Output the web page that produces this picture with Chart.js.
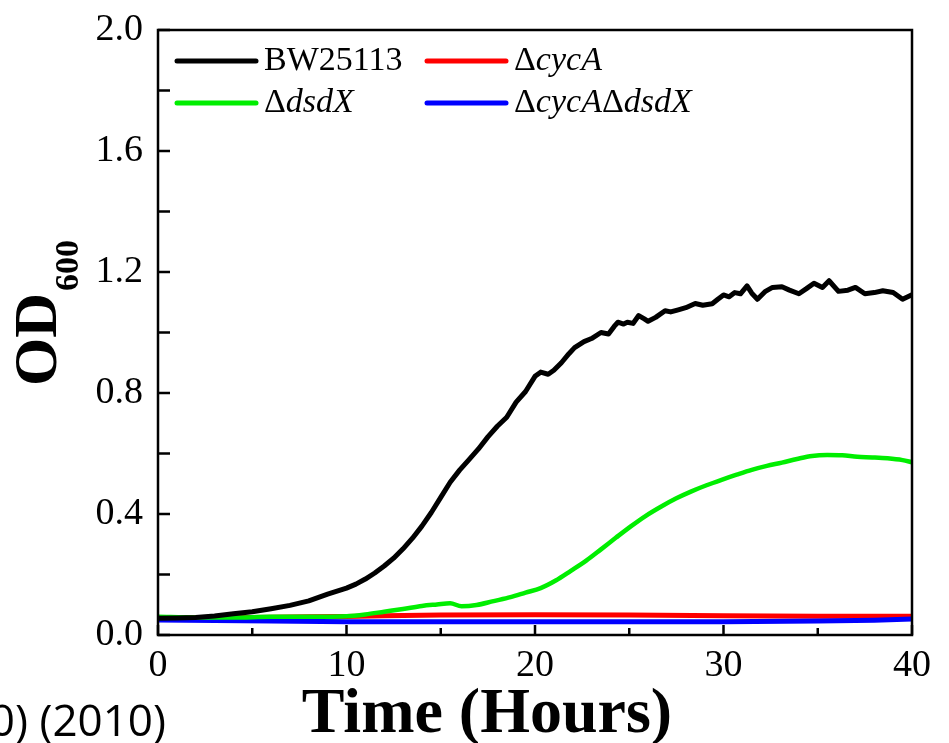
<!DOCTYPE html>
<html>
<head>
<meta charset="utf-8">
<script src="https://cdn.jsdelivr.net/npm/chart.js@4.4.1/dist/chart.umd.min.js"></script>
<style>
  html, body { margin:0; padding:0; background:#fff; }
  #wrap { position:relative; width:949px; height:743px; }
</style>
</head>
<body>
<div id="wrap"><canvas id="chart-od" width="949" height="743"></canvas></div>
<script>
// Growth curves, OD600 vs time (h)
const bwTime = [0,1,2,3,4,5,6,7,8,9,10,10.5,11,11.5,12,12.5,13,13.5,14,14.5,15,15.5,16,16.5,17,17.5,18,18.5,19,19.5,20,20.3,20.7,21,21.4,21.8,22.1,22.6,23,23.5,23.9,24.2,24.4,24.7,24.9,25.2,25.5,25.8,26,26.4,26.9,27.2,27.6,28,28.5,28.9,29.4,29.7,30,30.3,30.6,30.9,31.25,31.5,31.8,32.2,32.6,33.1,33.5,34,34.4,34.8,35.25,35.6,36.1,36.6,37,37.5,38,38.45,39,39.5,40];
const bwOD   = [0.055,0.056,0.058,0.063,0.070,0.077,0.087,0.098,0.113,0.135,0.155,0.168,0.185,0.205,0.228,0.254,0.285,0.32,0.36,0.405,0.455,0.505,0.545,0.58,0.615,0.655,0.69,0.72,0.77,0.805,0.855,0.869,0.862,0.875,0.90,0.93,0.95,0.97,0.98,1.00,0.995,1.02,1.034,1.028,1.034,1.03,1.056,1.045,1.037,1.05,1.072,1.068,1.075,1.082,1.096,1.09,1.095,1.11,1.124,1.118,1.132,1.128,1.154,1.13,1.11,1.135,1.149,1.151,1.14,1.128,1.145,1.163,1.149,1.171,1.136,1.14,1.149,1.128,1.132,1.138,1.132,1.11,1.125];

const dsdXTime = [0,2,4,6,8,10,11,12,13,14,14.8,15.5,16.1,16.9,17.8,18.7,19.5,20.3,21.1,21.9,22.7,23.5,24.3,25.1,25.9,26.7,27.5,28.3,29.1,29.9,30.7,31.5,32.3,33.1,33.9,34.7,35.5,36.3,37.1,37.9,38.7,39.5,40];
const dsdXOD   = [0.06,0.058,0.058,0.06,0.06,0.062,0.068,0.077,0.086,0.096,0.101,0.105,0.095,0.099,0.112,0.125,0.14,0.155,0.18,0.212,0.245,0.283,0.322,0.36,0.395,0.425,0.452,0.475,0.495,0.513,0.53,0.546,0.559,0.57,0.582,0.592,0.595,0.594,0.589,0.587,0.584,0.578,0.571];

const cycATime = [0,5,8,10,12,15,20,25,30,35,40];
const cycAOD   = [0.058,0.058,0.06,0.061,0.064,0.066,0.067,0.066,0.064,0.062,0.062];

const dblTime = [0,3,6,10,15,20,25,30,35,38,40];
const dblOD   = [0.05,0.048,0.046,0.044,0.044,0.044,0.044,0.044,0.046,0.049,0.053];

const xTicks = [0,10,20,30,40];
const yTicks = [0.0,0.4,0.8,1.2,1.6,2.0];

const toXY = (t, v) => t.map((x, i) => ({ x, y: v[i] }));

const SERIF = "'Liberation Serif', 'Times New Roman', serif";

// frame, inner ticks, legend, axis titles
const decor = {
  id: 'decor',
  afterDraw(chart) {
    const { ctx, chartArea: a, scales: { x, y } } = chart;
    ctx.save();
    ctx.strokeStyle = '#000';
    ctx.lineWidth = 2.5;
    ctx.strokeRect(a.left, a.top, a.right - a.left, a.bottom - a.top);

    // inner ticks
    ctx.beginPath();
    for (let v = 0; v <= 40; v += 5) {
      const px = x.getPixelForValue(v);
      const len = v % 10 === 0 ? 10 : 7;
      ctx.moveTo(px, a.bottom); ctx.lineTo(px, a.bottom - len);
    }
    for (let i = 0; i <= 10; i++) {
      const py = y.getPixelForValue(i * 0.2);
      ctx.moveTo(a.left, py); ctx.lineTo(a.left + 12, py);
    }
    ctx.stroke();

    // legend
    const rows = [
      { col: 0, row: 0, color: '#000000', parts: [['BW25113', false]] },
      { col: 1, row: 0, color: '#ff0000', parts: [['Δ', false], ['cycA', true]] },
      { col: 0, row: 1, color: '#00ee00', parts: [['Δ', false], ['dsdX', true]] },
      { col: 1, row: 1, color: '#0000ff', parts: [['Δ', false], ['cycA', true], ['Δ', false], ['dsdX', true]] }
    ];
    const colX = [a.left + 19, a.left + 269];
    const rowY = [a.top + 31, a.top + 73];
    ctx.textBaseline = 'middle';
    ctx.fillStyle = '#000';
    rows.forEach(r => {
      const lx = colX[r.col], ly = rowY[r.row];
      ctx.strokeStyle = r.color;
      ctx.lineWidth = 5;
      ctx.lineCap = 'round';
      ctx.beginPath(); ctx.moveTo(lx, ly); ctx.lineTo(lx + 79, ly); ctx.stroke();
      let tx = lx + 87;
      r.parts.forEach(([s, it]) => {
        ctx.font = (it ? 'italic ' : '') + '34px ' + SERIF;
        ctx.fillText(s, tx, ly);
        tx += ctx.measureText(s).width;
      });
    });

    // x title
    ctx.font = 'bold 64px ' + SERIF;
    ctx.textAlign = 'center';
    ctx.textBaseline = 'alphabetic';
    ctx.fillText('Time (Hours)', 487, 732);

    // y title with subscript
    ctx.save();
    ctx.translate(56, 386);
    ctx.rotate(-Math.PI / 2);
    ctx.textAlign = 'left';
    ctx.font = 'bold 62px ' + SERIF;
    ctx.fillText('OD', 0, 0);
    const w = ctx.measureText('OD').width;
    ctx.font = 'bold 34px ' + SERIF;
    ctx.fillText('600', w + 2, 22);
    ctx.restore();

    // cut-off caption fragment at bottom left
    ctx.font = "44px 'Open Sans', 'Noto Sans', sans-serif";
    ctx.textAlign = 'right';
    ctx.fillText('0) (2010)', 166, 736);
    ctx.restore();
  }
};

new Chart(document.getElementById('chart-od'), {
  type: 'line',
  data: {
    datasets: [
      { label: 'BW25113', data: toXY(bwTime, bwOD), borderColor: '#000000', borderWidth: 5, order: 1 },
      { label: 'ΔcycA', data: toXY(cycATime, cycAOD), borderColor: '#ff0000', borderWidth: 5, order: 4 },
      { label: 'ΔdsdX', data: toXY(dsdXTime, dsdXOD), borderColor: '#00ee00', borderWidth: 4.5, order: 2, cubicInterpolationMode: 'monotone' },
      { label: 'ΔcycAΔdsdX', data: toXY(dblTime, dblOD), borderColor: '#0000ff', borderWidth: 5, order: 3 }
    ]
  },
  options: {
    responsive: false,
    animation: false,
    devicePixelRatio: 1,
    elements: { point: { radius: 0 }, line: { tension: 0, borderJoinStyle: 'round', borderCapStyle: 'round' } },
    layout: { padding: { top: 30, right: 37, left: 0, bottom: 0 } },
    plugins: { legend: { display: false }, tooltip: { enabled: false } },
    scales: {
      x: {
        type: 'linear', min: 0, max: 40,
        afterFit: s => { s.height = 108; s.paddingLeft = 0; s.paddingRight = 0; },
        afterBuildTicks: s => { s.ticks = xTicks.map(v => ({ value: v })); },
        grid: { display: false, drawTicks: false },
        border: { display: false },
        ticks: { color: '#000', padding: 8, font: { family: SERIF, size: 38 }, maxRotation: 0 }
      },
      y: {
        type: 'linear', min: 0, max: 2,
        afterFit: s => { s.width = 158; s.paddingTop = 0; s.paddingBottom = 0; },
        afterBuildTicks: s => { s.ticks = yTicks.map(v => ({ value: v })); },
        grid: { display: false, drawTicks: false },
        border: { display: false },
        ticks: { color: '#000', padding: 15, font: { family: SERIF, size: 38 }, callback: v => Number(v).toFixed(1) }
      }
    }
  },
  plugins: [decor]
});
</script>
</body>
</html>
